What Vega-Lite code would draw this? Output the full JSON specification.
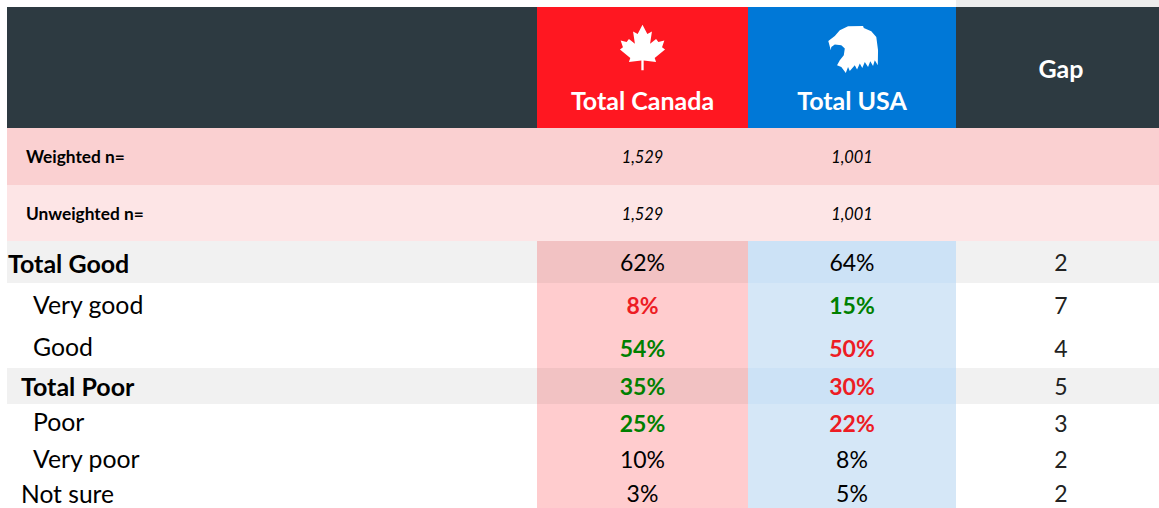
{"$schema":"https://vega.github.io/schema/vega-lite/v6.json","width":1159,"height":508,"padding":0,"autosize":"none","background":"white","config":{"view":{"stroke":null},"text":{"font":"Lato"}},
"datasets":{
"cells":[
{"row":-1,"col":3,"tone":"strip"},
{"row":0,"col":0,"tone":"dark"},{"row":0,"col":1,"tone":"canada"},{"row":0,"col":2,"tone":"usa"},{"row":0,"col":3,"tone":"dark"},
{"row":1,"col":0,"tone":"weighted"},{"row":1,"col":1,"tone":"weighted"},{"row":1,"col":2,"tone":"weighted"},{"row":1,"col":3,"tone":"weighted"},
{"row":2,"col":0,"tone":"unweighted"},{"row":2,"col":1,"tone":"unweighted"},{"row":2,"col":2,"tone":"unweighted"},{"row":2,"col":3,"tone":"unweighted"},
{"row":3,"col":0,"tone":"total"},{"row":3,"col":1,"tone":"totalCanada"},{"row":3,"col":2,"tone":"totalUsa"},{"row":3,"col":3,"tone":"total"},
{"row":4,"col":1,"tone":"lightCanada"},{"row":4,"col":2,"tone":"lightUsa"},
{"row":5,"col":1,"tone":"lightCanada"},{"row":5,"col":2,"tone":"lightUsa"},
{"row":6,"col":0,"tone":"total"},{"row":6,"col":1,"tone":"totalCanada"},{"row":6,"col":2,"tone":"totalUsa"},{"row":6,"col":3,"tone":"total"},
{"row":7,"col":1,"tone":"lightCanada"},{"row":7,"col":2,"tone":"lightUsa"},
{"row":8,"col":1,"tone":"lightCanada"},{"row":8,"col":2,"tone":"lightUsa"},
{"row":9,"col":1,"tone":"lightCanada"},{"row":9,"col":2,"tone":"lightUsa"}],
"texts":[
{"row":0,"col":1,"text":"Total Canada","kind":"country"},{"row":0,"col":2,"text":"Total USA","kind":"country"},{"row":0,"col":3,"text":"Gap","kind":"gapHead"},
{"row":1,"col":0,"text":"Weighted n=","kind":"nLabel"},{"row":2,"col":0,"text":"Unweighted n=","kind":"nLabel"},
{"row":1,"col":1,"text":"1,529","kind":"n"},{"row":1,"col":2,"text":"1,001","kind":"n"},{"row":2,"col":1,"text":"1,529","kind":"n"},{"row":2,"col":2,"text":"1,001","kind":"n"},
{"row":3,"col":0,"text":"Total Good","kind":"totalGood"},{"row":4,"col":0,"text":"Very good","kind":"sub"},{"row":5,"col":0,"text":"Good","kind":"sub"},{"row":6,"col":0,"text":"Total Poor","kind":"totalPoor"},{"row":7,"col":0,"text":"Poor","kind":"sub"},{"row":8,"col":0,"text":"Very poor","kind":"sub"},{"row":9,"col":0,"text":"Not sure","kind":"notSure"},
{"row":3,"col":1,"text":"62%","kind":"plain"},{"row":3,"col":2,"text":"64%","kind":"plain"},{"row":3,"col":3,"text":"2","kind":"gap"},
{"row":4,"col":1,"text":"8%","kind":"low"},{"row":4,"col":2,"text":"15%","kind":"high"},{"row":4,"col":3,"text":"7","kind":"gap"},
{"row":5,"col":1,"text":"54%","kind":"high"},{"row":5,"col":2,"text":"50%","kind":"low"},{"row":5,"col":3,"text":"4","kind":"gap"},
{"row":6,"col":1,"text":"35%","kind":"high"},{"row":6,"col":2,"text":"30%","kind":"low"},{"row":6,"col":3,"text":"5","kind":"gap"},
{"row":7,"col":1,"text":"25%","kind":"high"},{"row":7,"col":2,"text":"22%","kind":"low"},{"row":7,"col":3,"text":"3","kind":"gap"},
{"row":8,"col":1,"text":"10%","kind":"plain"},{"row":8,"col":2,"text":"8%","kind":"plain"},{"row":8,"col":3,"text":"2","kind":"gap"},
{"row":9,"col":1,"text":"3%","kind":"plain"},{"row":9,"col":2,"text":"5%","kind":"plain"},{"row":9,"col":3,"text":"2","kind":"gap"}],
"icons":[{"col":1,"row":0,"icon":"maple leaf"},{"col":2,"row":0,"icon":"eagle"}]
},
"resolve":{"scale":{"x":"shared","y":"shared","fill":"independent"}},
"layer":[
{"data":{"name":"cells"},"transform":[{"calculate":"datum.row+1","as":"rowEnd"},{"calculate":"datum.col+1","as":"colEnd"}],"mark":{"type":"rect","strokeWidth":0},"encoding":{
"x":{"field":"col","type":"quantitative","axis":null,"scale":{"domain":[-1,0,1,2,3,4],"range":[0,7,537,748,956,1159],"nice":false,"zero":false}},"x2":{"field":"colEnd"},
"y":{"field":"row","type":"quantitative","axis":null,"scale":{"domain":[-1,0,1,2,3,4,5,6,7,8,9,10],"range":[0,7,128,185,241,283,327,368,404,441,477,508],"nice":false,"zero":false}},"y2":{"field":"rowEnd"},
"fill":{"field":"tone","type":"nominal","legend":null,"scale":{"domain":["strip","dark","canada","usa","weighted","unweighted","total","totalCanada","totalUsa","lightCanada","lightUsa"],"range":["#EDEDED","#2D3A41","#FF1721","#0078D7","#FAD0D1","#FDE5E6","#F1F1F1","#F2C2C3","#CCE2F6","#FFCCCE","#D5E7F7"]}}}},
{"data":{"name":"icons"},"transform":[{"filter":"datum.col==1"},{"calculate":"datum.col+0.5","as":"mid"}],"mark":{"type":"point","filled":true,"fill":"white","opacity":1,"strokeWidth":0,"size":2116,"shape":"M0,-.99L.21,-.59L.41,-.7L.33,-.17L.59,-.37L.69,-.24L.95,-.31L.85,-.01L.98,.09L.53,.46L.59,.63L.05,.56L.05,.99L-.05,.99L-.05,.56L-.59,.63L-.53,.46L-.98,.09L-.85,-.01L-.95,-.31L-.69,-.24L-.59,-.37L-.33,-.17L-.41,-.7L-.21,-.59Z"},"encoding":{"x":{"field":"mid","type":"quantitative"},"y":{"datum":0.335}}},
{"data":{"name":"icons"},"transform":[{"filter":"datum.col==2"},{"calculate":"datum.col+0.505","as":"mid"}],"mark":{"type":"point","filled":true,"fill":"white","opacity":1,"strokeWidth":0,"size":2500,"shape":"M-.89,.04L-.99,-.33L-.73,-.53L-.53,-.76L-.2,-.92L.4,-.93L.43,-.85L.73,-.72L.93,-.49L1,.04L.99,.64L.87,.44L.8,.67L.69,.48L.6,.71L.47,.51L.37,.75L.27,.57L.16,.81L.07,.64L-.13,.87L-.2,.71L-.29,.95L-.47,.71L-.64,.64L-.53,.44L-.37,.24L-.33,-.03L-.47,-.16L-.73,-.19L-.87,-.09Z"},"encoding":{"x":{"field":"mid","type":"quantitative"},"y":{"datum":0.35}}},
{"data":{"name":"texts"},"transform":[{"filter":"datum.kind=='country'"},{"calculate":"datum.col+0.5","as":"mid"},{"calculate":"datum.row+0.5","as":"rowMid"}],"mark":{"type":"text","font":"Lato","fontWeight":"bold","fontSize":25,"fill":"white","align":"center","baseline":"middle","dy":34},"encoding":{"x":{"field":"mid","type":"quantitative"},"y":{"field":"rowMid","type":"quantitative"},"text":{"field":"text"}}},
{"data":{"name":"texts"},"transform":[{"filter":"datum.kind=='gapHead'"},{"calculate":"datum.col+0.5","as":"mid"},{"calculate":"datum.row+0.5","as":"rowMid"}],"mark":{"type":"text","font":"Lato","fontWeight":"bold","fontSize":25,"fill":"white","align":"center","baseline":"middle","dx":3.5,"dy":2},"encoding":{"x":{"field":"mid","type":"quantitative"},"y":{"field":"rowMid","type":"quantitative"},"text":{"field":"text"}}},
{"data":{"name":"texts"},"transform":[{"filter":"datum.kind=='nLabel'"},{"calculate":"datum.row+0.5","as":"rowMid"}],"mark":{"type":"text","font":"Lato","fontWeight":"bold","fontSize":17.3,"fill":"black","align":"left","baseline":"middle","dx":19,"dy":1.5},"encoding":{"x":{"field":"col","type":"quantitative"},"y":{"field":"rowMid","type":"quantitative"},"text":{"field":"text"}}},
{"data":{"name":"texts"},"transform":[{"filter":"datum.kind=='n'"},{"calculate":"datum.col+0.5","as":"mid"},{"calculate":"datum.row+0.5","as":"rowMid"}],"mark":{"type":"text","font":"Lato","fontStyle":"italic","fontSize":16.4,"fill":"black","align":"center","baseline":"middle","dy":1.5},"encoding":{"x":{"field":"mid","type":"quantitative"},"y":{"field":"rowMid","type":"quantitative"},"text":{"field":"text"}}},
{"data":{"name":"texts"},"transform":[{"filter":"datum.kind=='totalGood'"},{"calculate":"datum.row+0.5","as":"rowMid"}],"mark":{"type":"text","font":"Lato","fontWeight":"bold","fontSize":25,"fill":"black","align":"left","baseline":"middle","dx":1,"dy":3},"encoding":{"x":{"field":"col","type":"quantitative"},"y":{"field":"rowMid","type":"quantitative"},"text":{"field":"text"}}},
{"data":{"name":"texts"},"transform":[{"filter":"datum.kind=='totalPoor'"},{"calculate":"datum.row+0.5","as":"rowMid"}],"mark":{"type":"text","font":"Lato","fontWeight":"bold","fontSize":25,"fill":"black","align":"left","baseline":"middle","dx":14,"dy":2},"encoding":{"x":{"field":"col","type":"quantitative"},"y":{"field":"rowMid","type":"quantitative"},"text":{"field":"text"}}},
{"data":{"name":"texts"},"transform":[{"filter":"datum.kind=='sub'"},{"calculate":"datum.row+0.5","as":"rowMid"}],"mark":{"type":"text","font":"Lato","fontSize":24.8,"fill":"black","align":"left","baseline":"middle","dx":26,"dy":1.5},"encoding":{"x":{"field":"col","type":"quantitative"},"y":{"field":"rowMid","type":"quantitative"},"text":{"field":"text"}}},
{"data":{"name":"texts"},"transform":[{"filter":"datum.kind=='notSure'"},{"calculate":"datum.row+0.5","as":"rowMid"}],"mark":{"type":"text","font":"Lato","fontSize":24.6,"fill":"black","align":"left","baseline":"middle","dx":14,"dy":3},"encoding":{"x":{"field":"col","type":"quantitative"},"y":{"field":"rowMid","type":"quantitative"},"text":{"field":"text"}}},
{"data":{"name":"texts"},"transform":[{"filter":"datum.kind=='plain'"},{"calculate":"datum.col+0.5","as":"mid"},{"calculate":"datum.row+0.5","as":"rowMid"}],"mark":{"type":"text","font":"Lato","fontSize":23,"fill":"black","align":"center","baseline":"middle","dy":2},"encoding":{"x":{"field":"mid","type":"quantitative"},"y":{"field":"rowMid","type":"quantitative"},"text":{"field":"text"}}},
{"data":{"name":"texts"},"transform":[{"filter":"datum.kind=='gap'"},{"calculate":"datum.col+0.5","as":"mid"},{"calculate":"datum.row+0.5","as":"rowMid"}],"mark":{"type":"text","font":"Lato","fontSize":23,"fill":"#222222","align":"center","baseline":"middle","dx":3.5,"dy":2},"encoding":{"x":{"field":"mid","type":"quantitative"},"y":{"field":"rowMid","type":"quantitative"},"text":{"field":"text"}}},
{"data":{"name":"texts"},"transform":[{"filter":"datum.kind=='high'||datum.kind=='low'"},{"calculate":"datum.col+0.5","as":"mid"},{"calculate":"datum.row+0.5","as":"rowMid"}],"mark":{"type":"text","font":"Lato","fontWeight":"bold","fontSize":23,"align":"center","baseline":"middle","dy":2},"encoding":{"x":{"field":"mid","type":"quantitative"},"y":{"field":"rowMid","type":"quantitative"},"text":{"field":"text"},"fill":{"field":"kind","type":"nominal","legend":null,"scale":{"domain":["high","low"],"range":["#008000","#ED1C24"]}}}}
]}
